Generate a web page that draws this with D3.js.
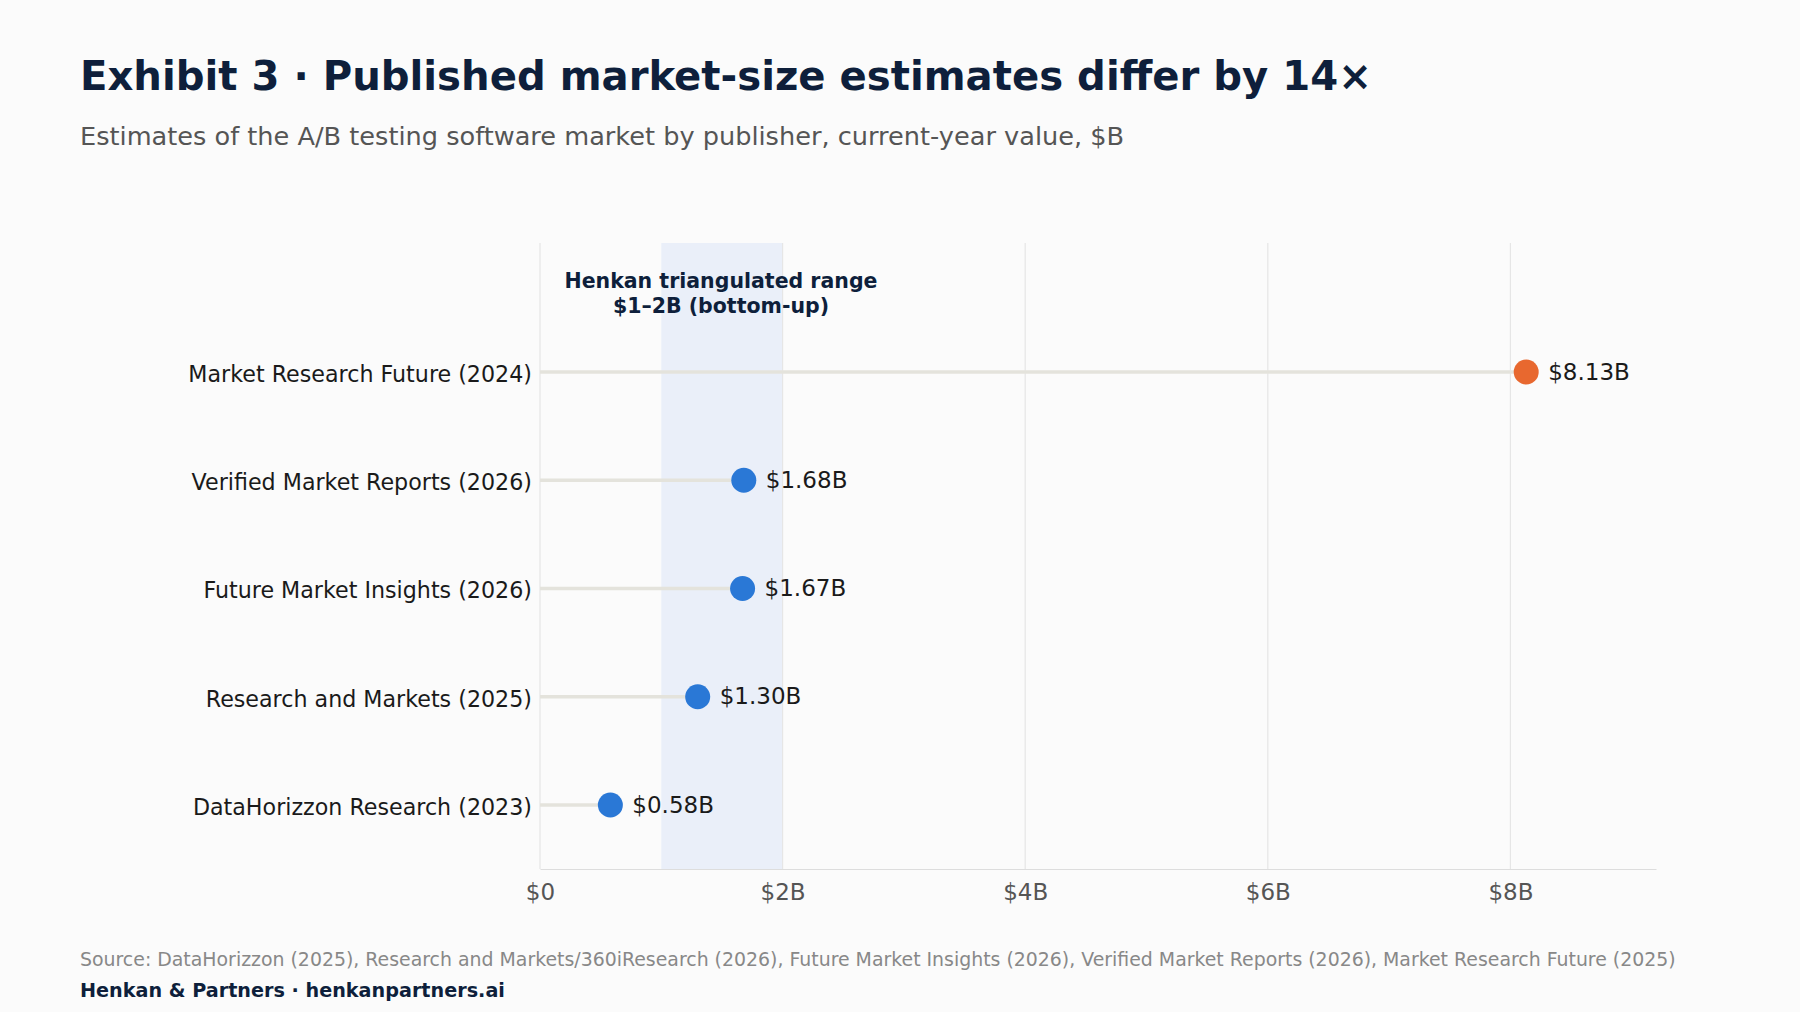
<!DOCTYPE html>
<html><head><meta charset="utf-8">
<script src="https://cdn.jsdelivr.net/npm/d3@7"></script>
<style>
body{margin:0;background:#fbfbfb;font-family:"DejaVu Sans",sans-serif;}
</style></head>
<body><div id="chart"></div>
<script>
var publishers = ["Market Research Future (2024)","Verified Market Reports (2026)","Future Market Insights (2026)","Research and Markets (2025)","DataHorizzon Research (2023)"];
var values = [8.13, 1.68, 1.67, 1.30, 0.58];
var valueLabels = ["$8.13B","$1.68B","$1.67B","$1.30B","$0.58B"];
var ticks = [0, 2, 4, 6, 8];
var tickLabels = ["$0","$2B","$4B","$6B","$8B"];
var rangeLow = 1, rangeHigh = 2;

var W = 1800, H = 1012;
var svg = d3.select("#chart").append("svg").attr("width", W).attr("height", H);
svg.append("rect").attr("width", W).attr("height", H).attr("fill", "#fbfbfb");

var plotTop = 243, plotBottom = 869, plotLeft = 540, plotRight = 1656;

var x = d3.scaleLinear().domain([0, 9.2]).range([plotLeft, plotRight]);
var y = d3.scalePoint().domain(publishers).range([372, 805]);

// range band
svg.append("rect")
  .attr("x", x(rangeLow)).attr("y", plotTop)
  .attr("width", x(rangeHigh) - x(rangeLow)).attr("height", plotBottom - plotTop)
  .attr("fill", "#eaeff9");

// gridlines
svg.selectAll(".grid").data(ticks).enter().append("line")
  .attr("x1", d => x(d)).attr("x2", d => x(d))
  .attr("y1", plotTop).attr("y2", plotBottom)
  .attr("stroke", "#e6e6e6").attr("stroke-width", 1.2);

// x axis
var xAxis = svg.append("g")
  .attr("transform", "translate(0," + plotBottom + ")")
  .call(d3.axisBottom(x).tickValues(ticks).tickFormat((d, i) => tickLabels[i]).tickSize(0).tickPadding(10));
xAxis.select(".domain").attr("stroke", "#dddddd");
xAxis.selectAll("text").attr("font-size", 23).attr("fill", "#555").attr("font-family", "DejaVu Sans");
xAxis.selectAll("text").attr("dy", "0.9em");

// annotation
svg.append("text").attr("x", 721).attr("y", 288).attr("text-anchor", "middle")
  .attr("font-size", 20.5).attr("font-weight", "bold").attr("fill", "#0e1f3b")
  .text("Henkan triangulated range");
svg.append("text").attr("x", 721).attr("y", 313).attr("text-anchor", "middle")
  .attr("font-size", 20.5).attr("font-weight", "bold").attr("fill", "#0e1f3b")
  .text("$1–2B (bottom-up)");

var rows = svg.selectAll(".row").data(publishers).enter().append("g");

rows.append("line")
  .attr("x1", x(0)).attr("x2", (d, i) => x(values[i]))
  .attr("y1", d => y(d)).attr("y2", d => y(d))
  .attr("stroke", "#e4e3dc").attr("stroke-width", 3.5);

rows.append("circle")
  .attr("cx", (d, i) => x(values[i])).attr("cy", d => y(d)).attr("r", 12.5)
  .attr("fill", (d, i) => i === 0 ? "#e8682f" : "#2a78d6");

rows.append("text")
  .attr("x", (d, i) => x(values[i]) + 22).attr("y", d => y(d))
  .attr("dy", "0.33em").attr("font-size", 23).attr("fill", "#1a1a1a")
  .text((d, i) => valueLabels[i]);

rows.append("text")
  .attr("x", 532).attr("y", d => y(d) + 2)
  .attr("dy", "0.35em").attr("text-anchor", "end").attr("font-size", 22.2).attr("fill", "#1a1a1a")
  .text(d => d);

// titles
svg.append("text").attr("x", 80).attr("y", 90)
  .attr("font-size", 40.2).attr("font-weight", "bold").attr("fill", "#0e1f3b")
  .text("Exhibit 3 · Published market-size estimates differ by 14×");
svg.append("text").attr("x", 80).attr("y", 145)
  .attr("font-size", 25.6).attr("fill", "#555")
  .text("Estimates of the A/B testing software market by publisher, current-year value, $B");

svg.append("text").attr("x", 80).attr("y", 966)
  .attr("font-size", 18.9).attr("fill", "#888")
  .text("Source: DataHorizzon (2025), Research and Markets/360iResearch (2026), Future Market Insights (2026), Verified Market Reports (2026), Market Research Future (2025)");
svg.append("text").attr("x", 80).attr("y", 997)
  .attr("font-size", 19.2).attr("font-weight", "bold").attr("fill", "#0e1f3b")
  .text("Henkan & Partners · henkanpartners.ai");
</script></body></html>
